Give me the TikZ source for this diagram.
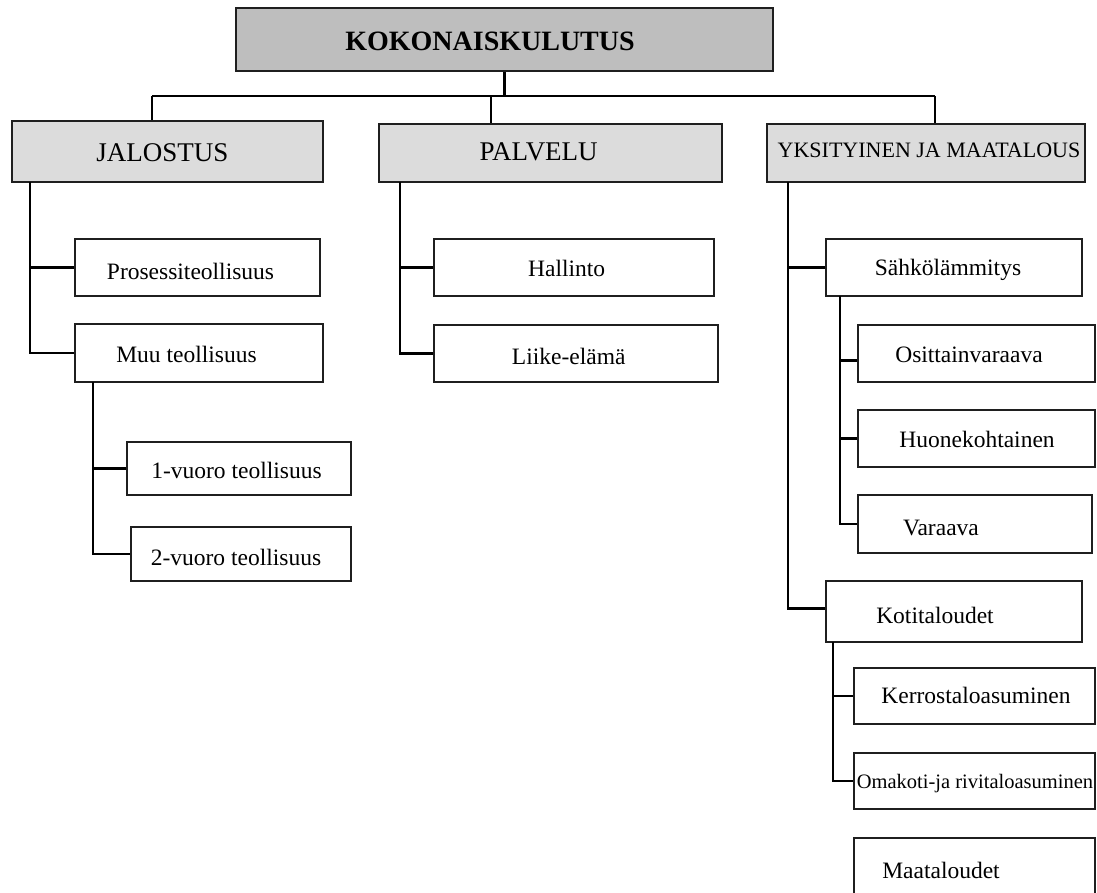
\documentclass[tikz,border=0pt]{standalone}
\usepackage{fontspec}
\setmainfont{Liberation Serif}
\begin{document}
\begin{tikzpicture}[x=1pt,y=-1pt,
  box/.style={draw=black!88, line width=2.2pt, rectangle, inner sep=0pt, fill=white},
  topbox/.style={box, fill=topgray},
  mainbox/.style={box, fill=maingray},
  link/.style={draw=black, line width=2.1pt},
  txt/.style={anchor=base, inner sep=0pt, font=\fontsize{23.5}{26}\selectfont},
  maintxt/.style={anchor=base, inner sep=0pt, font=\fontsize{27}{30}\selectfont},
  toptxt/.style={anchor=base, inner sep=0pt, font=\fontsize{28}{31}\selectfont\bfseries}]
\definecolor{topgray}{HTML}{BEBEBE}
\definecolor{maingray}{HTML}{DCDCDC}
\clip (0,0) rectangle (1097,892);

% boxes
\node[topbox,  minimum width=537pt, minimum height=63pt] (top) at (504.5,39.5) {};
\node[mainbox, minimum width=311pt, minimum height=61pt] (jal) at (167.5,151.5) {};
\node[mainbox, minimum width=343pt, minimum height=58pt] (pal) at (550.5,153) {};
\node[mainbox, minimum width=318pt, minimum height=58pt] (yks) at (926,153) {};

\node[box, minimum width=245pt, minimum height=57pt] (proc) at (197.5,267.5) {};
\node[box, minimum width=248pt, minimum height=58pt] (muu)  at (199,353) {};
\node[box, minimum width=224pt, minimum height=53pt] (v1)   at (239,468.5) {};
\node[box, minimum width=220pt, minimum height=54pt] (v2)   at (241,554) {};

\node[box, minimum width=280pt, minimum height=57pt] (hal) at (574,267.5) {};
\node[box, minimum width=284pt, minimum height=57pt] (lii) at (576,353.5) {};

\node[box, minimum width=256pt, minimum height=57pt] (sah) at (954,267.5) {};
\node[box, minimum width=237pt, minimum height=57pt] (osi) at (976.5,353.5) {};
\node[box, minimum width=237pt, minimum height=57pt] (huo) at (976.5,438.5) {};
\node[box, minimum width=234pt, minimum height=58pt] (var) at (975,524) {};
\node[box, minimum width=256pt, minimum height=61pt] (kot) at (954,611.5) {};
\node[box, minimum width=241pt, minimum height=56pt] (ker) at (974.5,696) {};
\node[box, minimum width=241pt, minimum height=56pt] (oma) at (974.5,781) {};
\node[box, minimum width=241pt, minimum height=77pt] (maa) at (974.5,876.5) {};

% texts
\node[toptxt]  (ttop) at (490,50)  {KOKONAISKULUTUS};
\node[maintxt] (tjal) at (162.5,161) {JALOSTUS};
\node[maintxt] (tpal) at (538.7,160) {PALVELU};
\node[anchor=base, inner sep=0pt, font=\fontsize{22}{25}\selectfont] (tyks) at (929,157) {YKSITYINEN JA MAATALOUS};

\node[txt] (tproc) at (190.5,279) {Prosessiteollisuus};
\node[txt] (tmuu)  at (186.5,362.7) {Muu teollisuus};
\node[txt] (tv1)   at (236.5,478) {1-vuoro teollisuus};
\node[txt] (tv2)   at (236,565) {2-vuoro teollisuus};
\node[txt] (thal)  at (566.7,276) {Hallinto};
\node[txt] (tlii)  at (568.7,364) {Liike-elämä};
\node[txt] (tsah)  at (948,275) {Sähkölämmitys};
\node[txt] (tosi)  at (969,362) {Osittainvaraava};
\node[txt] (thuo)  at (977,447) {Huonekohtainen};
\node[txt] (tvar)  at (941,535) {Varaava};
\node[txt] (tkot)  at (935,623) {Kotitaloudet};
\node[txt] (tker)  at (976,703) {Kerrostaloasuminen};
\node[anchor=base, inner sep=0pt, font=\fontsize{20.5}{23}\selectfont] (toma) at (975,788) {Omakoti-ja rivitaloasuminen};
\node[txt] (tmaa)  at (941,878) {Maataloudet};

% bus below the top box
\coordinate (busL) at (152,96);
\coordinate (busP) at (491,96);
\coordinate (busR) at (935,96);
\draw[link] (top.south) -- (top.south |- busL);
\draw[link] (busL) -- (busR);
\draw[link] (busL) -- (busL |- jal.north);
\draw[link] (busP) -- (busP |- pal.north);
\draw[link] (busR) -- (busR |- yks.north);

% JALOSTUS branch
\coordinate (jL) at (30,182);
\draw[link] (jL) |- (muu.west);
\draw[link] (jL |- proc.west) -- (proc.west);
\coordinate (mL) at (93,382);
\draw[link] (mL) |- (v2.west);
\draw[link] (mL |- v1.west) -- (v1.west);

% PALVELU branch
\coordinate (pL) at (400,182);
\draw[link] (pL) |- (lii.west);
\draw[link] (pL |- hal.west) -- (hal.west);

% YKSITYINEN branch
\coordinate (yL) at (788,182);
\draw[link] (yL) |- ([yshift=3pt]kot.west);
\draw[link] (yL |- sah.west) -- (sah.west);
\coordinate (sL) at (840,296);
\draw[link] (sL) |- (var.west);
\draw[link] (sL |- huo.west) -- (huo.west);
\draw[link] ([yshift=-7pt]sL |- osi.west) -- ([yshift=-7pt]osi.west);
\coordinate (kL) at (833,642);
\draw[link] (kL) |- (oma.west);
\draw[link] (kL |- ker.west) -- (ker.west);
\end{tikzpicture}
\end{document}
